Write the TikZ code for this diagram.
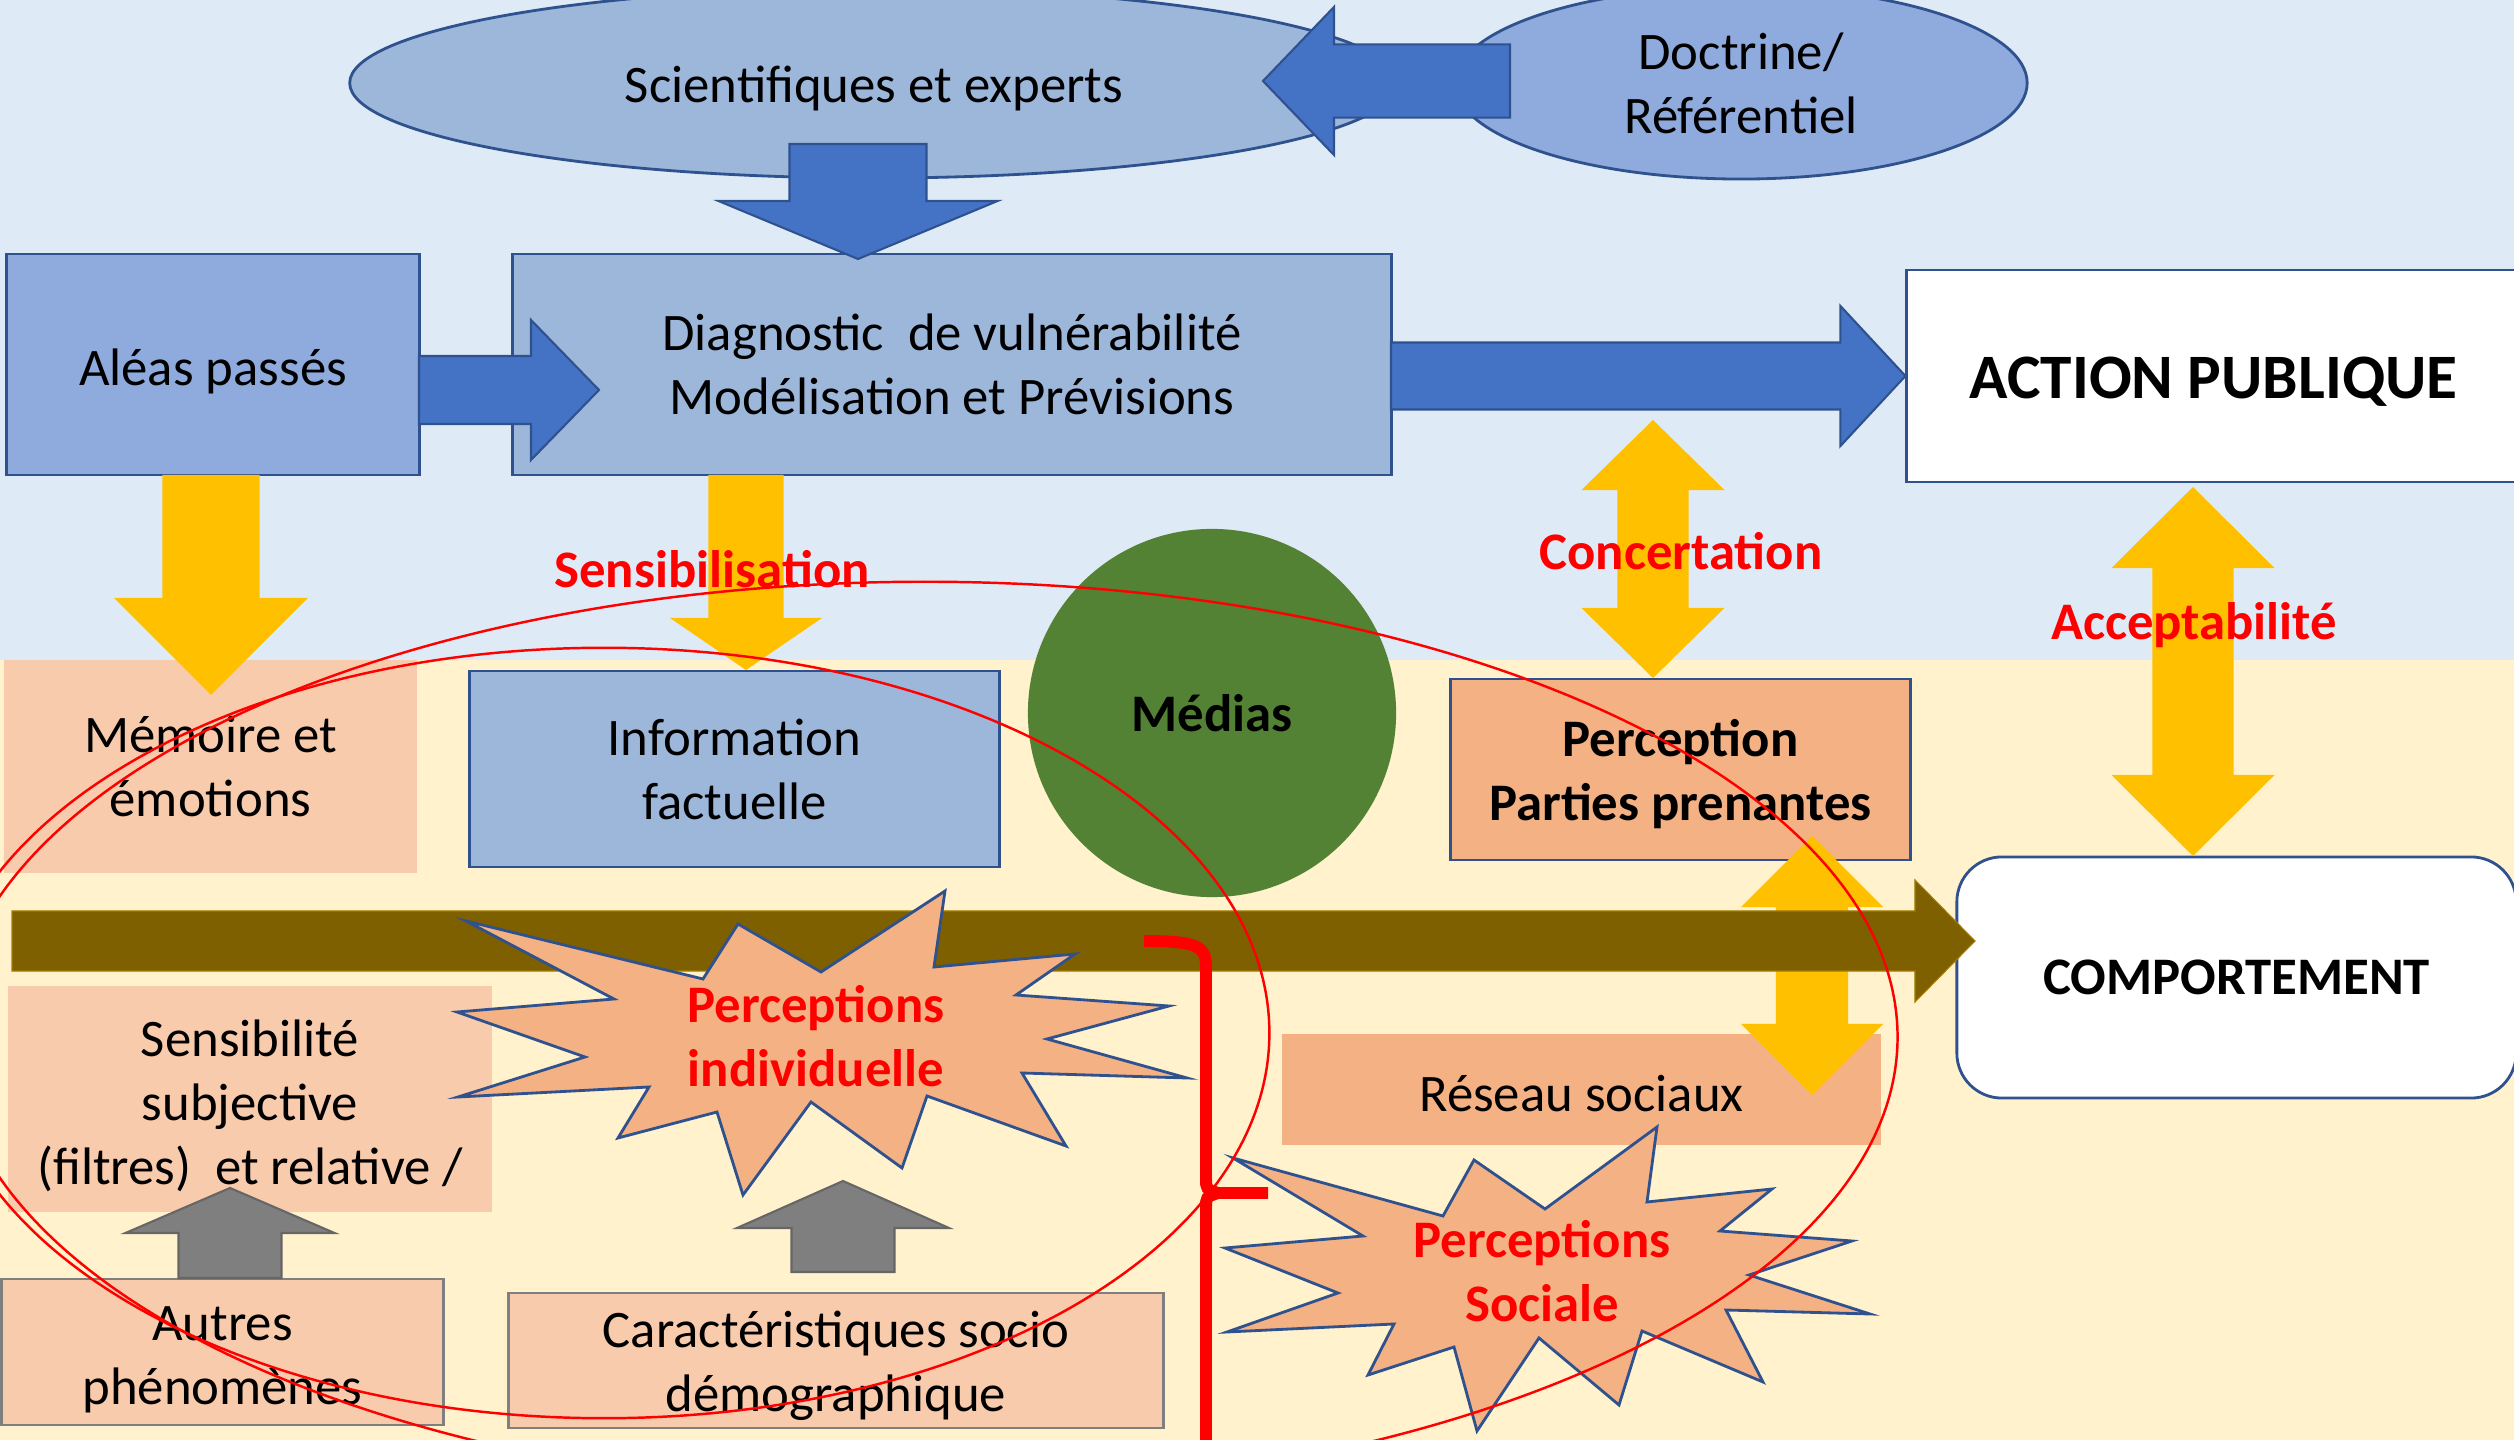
\documentclass[tikz,border=0pt]{standalone}
\usepackage{fontspec}
\setmainfont{Carlito}
\usetikzlibrary{shapes.geometric,calc}

\definecolor{skyback}{HTML}{DEEBF7}
\definecolor{creamback}{HTML}{FFF2CC}
\definecolor{steel}{HTML}{9DB7DB}
\definecolor{cornflower}{HTML}{8FAADC}
\definecolor{navyline}{HTML}{2F528F}
\definecolor{arrowblue}{HTML}{4472C4}
\definecolor{amber}{HTML}{FFC000}
\definecolor{brownband}{HTML}{7F6000}
\definecolor{peach}{HTML}{F8CBAD}
\definecolor{salmon}{HTML}{F4B183}
\definecolor{leaf}{HTML}{548235}
\definecolor{ashgray}{HTML}{7F7F7F}

% fat arrow: style, tail, tip, half shaft, half head, head length
\newcommand{\blockarrow}[6]{%
  \coordinate (hb) at ($(#3)!#6!(#2)$);
  \filldraw[#1] ($(#2)!#4!90:(#3)$) -- ($(hb)!#4!90:(#3)$) -- ($(hb)!#5!90:(#3)$) -- (#3)
    -- ($(hb)!#5!-90:(#3)$) -- ($(hb)!#4!-90:(#3)$) -- ($(#2)!#4!-90:(#3)$) -- cycle;}
% fat arrow with two heads
\newcommand{\dblarrow}[6]{%
  \coordinate (ha) at ($(#2)!#6!(#3)$);
  \coordinate (hb) at ($(#3)!#6!(#2)$);
  \filldraw[#1] (#2) -- ($(ha)!#5!90:(#3)$) -- ($(ha)!#4!90:(#3)$) -- ($(hb)!#4!90:(#3)$)
    -- ($(hb)!#5!90:(#3)$) -- (#3) -- ($(hb)!#5!-90:(#3)$) -- ($(hb)!#4!-90:(#3)$)
    -- ($(ha)!#4!-90:(#3)$) -- ($(ha)!#5!-90:(#3)$) -- cycle;}

\begin{document}
\begin{tikzpicture}[x=0.01cm, y=-0.01cm,
    txt/.style={font=\fontsize{15}{18.2}\selectfont, align=center, inner sep=0pt},
    drop/.style={execute at begin node={\rule{0pt}{#1}}},
    box/.style={txt, rectangle, draw=navyline, line width=0.8pt},
    plainbox/.style={txt, rectangle},
    bluearrow/.style={fill=arrowblue, draw=navyline, line width=0.6pt},
    yellowarrow/.style={fill=amber, draw=none},
    grayarrow/.style={fill=ashgray, draw=ashgray!80!black, line width=0.6pt},
    burst/.style={fill=salmon, draw=navyline, line width=0.8pt},
    redlabel/.style={font=\fontsize{15}{18.2}\selectfont\bfseries, text=red, align=center, inner sep=0pt},
    ring/.style={draw=red, line width=0.7pt},
    brace/.style={draw=red, line width=3.4pt}]
    \useasboundingbox (0,0) rectangle (2514,1440);
    \clip (0,0) rectangle (2514,1440);
    \fill[skyback] (0,0) rectangle (2514,660);
    \fill[creamback] (0,660) rectangle (2514,1440);

    \node[txt, drop=13.6pt, ellipse, fill=steel, draw=navyline, line width=0.8pt, minimum width=10.48cm, minimum height=1.9cm] (sci) at (874,83) {Scientifiques et experts};
    \node[txt, ellipse, fill=cornflower, draw=navyline, line width=0.8pt, minimum width=5.72cm, minimum height=1.92cm] (doct) at (1741,83) {Doctrine/\\Référentiel};
    \node[box, drop=14.2pt, fill=cornflower, minimum width=4.12cm, minimum height=2.21cm] (aleas) at (213,364.5) {Aléas passés};
    \node[box, fill=steel, minimum width=8.78cm, minimum height=2.21cm] (diag) at (952,364.5) {Diagnostic~ de vulnérabilité\\Modélisation et Prévisions};
    \node[box, drop=15pt, fill=white, minimum width=6.13cm, minimum height=2.12cm, font=\fontsize{18}{21}\selectfont\bfseries] (action) at (2213.5,376) {ACTION PUBLIQUE};

    \coordinate (doct-tail) at (1510,81);
    \coordinate (sci-tip) at (1263,81);
    \coordinate (sci-tail) at (858,144);
    \coordinate (diag-tip) at (858,259);
    \coordinate (aleas-out) at (419,390);
    \coordinate (diag-in) at (599,390);
    \coordinate (diag-out) at (1391,376);
    \blockarrow{bluearrow}{doct-tail}{sci-tip}{0.366cm}{0.74cm}{0.71cm}
    \blockarrow{bluearrow}{sci-tail}{diag-tip}{0.685cm}{1.395cm}{0.58cm}
    \blockarrow{bluearrow}{aleas-out}{diag-in}{0.34cm}{0.70cm}{0.68cm}
    \blockarrow{bluearrow}{diag-out}{action.west}{0.335cm}{0.70cm}{0.65cm}

    \node[plainbox, fill=peach, minimum width=4.13cm, minimum height=2.13cm] (memoire) at (210.5,766.5) {Mémoire et\\émotions};
    \node[box, fill=steel, minimum width=5.29cm, minimum height=1.96cm] (info) at (734.5,769) {Information\\factuelle};
    \node[txt, circle, fill=leaf, minimum size=3.68cm, font=\fontsize{15}{18.2}\selectfont\bfseries] (medias) at (1212,713) {Médias};
    \node[box, drop=31.3pt, fill=salmon, minimum width=4.59cm, minimum height=1.81cm, font=\fontsize{15}{18.2}\selectfont\bfseries] (percpp) at (1680.5,769.5) {Perception\\Parties prenantes};
    \node[box, fill=white, rounded corners=0.45cm, minimum width=5.59cm, minimum height=2.41cm, font=\fontsize{15}{18.2}\selectfont\bfseries] (comport) at (2236.5,977.5) {COMPORTEMENT};
    \node[plainbox, drop=50.6pt, fill=peach, minimum width=4.84cm, minimum height=2.26cm] (sensi) at (250,1099) {Sensibilité\\subjective\\(filtres)~ et relative /};
    \node[box, drop=32.4pt, fill=peach, draw=ashgray, minimum width=4.41cm, minimum height=1.46cm] (autres) at (222.5,1352) {Autres\\phénomènes};
    \node[box, drop=31.8pt, fill=peach, draw=ashgray, minimum width=6.54cm, minimum height=1.35cm] (caract) at (836,1360.5) {Caractéristiques socio\\démographique};
    \node[plainbox, drop=12.5pt, fill=salmon, minimum width=5.99cm, minimum height=1.11cm] (reseau) at (1581.5,1089.5) {Réseau sociaux};

    \coordinate (aleas-down) at (211,475);
    \coordinate (mem-tip) at (211,695);
    \coordinate (diag-down) at (746,475);
    \coordinate (info-tip) at (746,670);
    \coordinate (conc-top) at (1653,420);
    \coordinate (conc-bot) at (1653,678);
    \coordinate (acc-top) at (2193,487);
    \coordinate (acc-bot) at (2193,856);
    \coordinate (pp-low) at (1812,836);
    \coordinate (res-tip) at (1812,1095);
    \blockarrow{yellowarrow}{aleas-down}{mem-tip}{0.485cm}{0.97cm}{0.97cm}
    \blockarrow{yellowarrow}{diag-down}{info-tip}{0.375cm}{0.76cm}{0.52cm}
    \dblarrow{yellowarrow}{conc-top}{conc-bot}{0.355cm}{0.715cm}{0.70cm}
    \dblarrow{yellowarrow}{acc-top}{acc-bot}{0.405cm}{0.815cm}{0.81cm}
    \dblarrow{yellowarrow}{pp-low}{res-tip}{0.36cm}{0.71cm}{0.71cm}

    \coordinate (band-start) at (12,941);
    \coordinate (comport-tip) at (1975,941);
    \blockarrow{fill=brownband, draw=brownband!70!amber, line width=0.3pt}{band-start}{comport-tip}{0.30cm}{0.61cm}{0.60cm}

    \coordinate (autres-up) at (230,1278);
    \coordinate (sensi-tip) at (230,1188);
    \coordinate (caract-up) at (843,1272);
    \coordinate (pind-tip) at (843,1181);
    \blockarrow{grayarrow}{autres-up}{sensi-tip}{0.515cm}{1.045cm}{0.45cm}
    \blockarrow{grayarrow}{caract-up}{pind-tip}{0.515cm}{1.06cm}{0.47cm}

    \filldraw[burst] (466,921) -- (703,979) -- (738,924) -- (821,972) -- (945,891) -- (934,967)
        -- (1075,954) -- (1016,995) -- (1169,1006) -- (1047,1039) -- (1187,1078) -- (1022,1073)
        -- (1066,1146) -- (927,1096) -- (902,1168) -- (811,1102) -- (743,1195) -- (717,1112)
        -- (618,1138) -- (649,1087) -- (458,1097) -- (585,1057) -- (457,1012) -- (614,999) -- cycle;
    \node[redlabel] (pind) at (816,1036) {Perceptions\\individuelle};
    \filldraw[burst] (1233,1158) -- (1443,1216) -- (1474,1160) -- (1545,1209) -- (1657,1127) -- (1647,1202)
        -- (1772,1189) -- (1720,1231) -- (1852,1241) -- (1749,1275) -- (1870,1314) -- (1726,1310)
        -- (1763,1382) -- (1642,1331) -- (1619,1405) -- (1539,1338) -- (1477,1431) -- (1454,1347)
        -- (1368,1375) -- (1394,1324) -- (1227,1332) -- (1338,1293) -- (1225,1248) -- (1363,1236) -- cycle;
    \node[redlabel] (psoc) at (1542,1271) {Perceptions\\Sociale};

    \node[redlabel] (lsensib) at (712,569) {Sensibilisation};
    \node[redlabel] (lconcert) at (1681,551) {Concertation};
    \node[redlabel] (laccept) at (2194,625) {Acceptabilité};

    \draw[ring] (604,1033) ellipse [x radius=6.65cm, y radius=3.85cm];
    \draw[ring] (925,1037) ellipse [x radius=9.72cm, y radius=4.55cm];

    \draw[brace] (1144,941) .. controls (1196,941) and (1206,946) .. (1206,966) -- (1206,1178)
        .. controls (1206,1189) .. (1218,1193) -- (1268,1193);
    \draw[brace] (1218,1193) .. controls (1206,1197) .. (1206,1208) -- (1206,1450);
\end{tikzpicture}
\end{document}
